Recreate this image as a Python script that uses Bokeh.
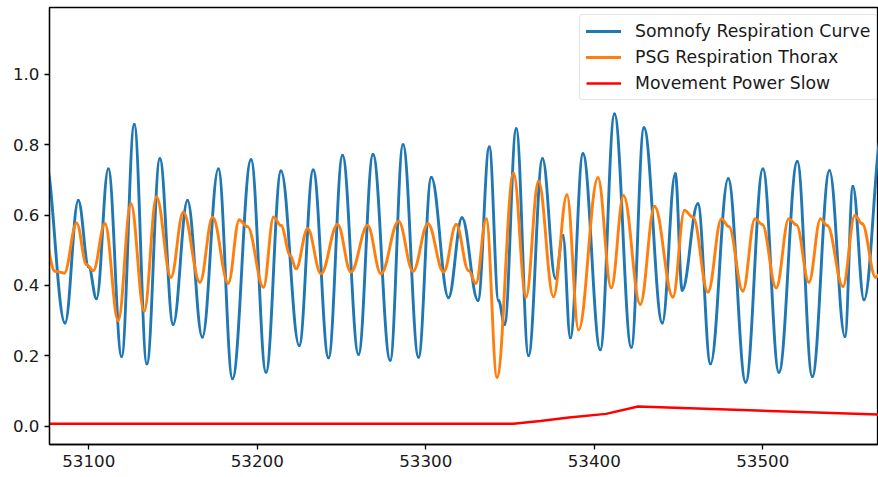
import numpy as np
from bokeh.plotting import figure
from bokeh.models import (Range1d, FixedTicker, NumeralTickFormatter, Legend,
                          LegendItem, ColumnDataSource)
from bokeh.embed import file_html
from bokeh.resources import INLINE

# ---- data (extrema / shoulders) ----
blue_x = [53074.0, 53085.9, 53093.8, 53100.0, 53104.6, 53111.6, 53119.5, 53127.0,
          53134.5, 53142.2, 53150.1, 53158.6, 53167.4, 53176.9, 53185.3, 53196.3,
          53205.2, 53214.1, 53224.9, 53233.2, 53242.3, 53250.6, 53260.1, 53268.7,
          53278.9, 53286.5, 53295.7, 53303.3, 53313.5, 53321.5, 53331.0, 53337.7,
          53343.2, 53346.8, 53353.7, 53361.0, 53369.3, 53377.0, 53381.4, 53385.8,
          53393.3, 53403.6, 53412.0, 53422.0, 53429.5, 53440.4, 53448.1, 53452.2,
          53461.5, 53469.0, 53479.5, 53489.9, 53500.1, 53509.6, 53520.5, 53529.4,
          53539.6, 53548.8, 53553.5, 53560.1, 53571.0]
blue_y = [0.760, 0.293, 0.641, 0.452, 0.362, 0.731, 0.198, 0.857,
          0.177, 0.760, 0.289, 0.641, 0.253, 0.731, 0.135, 0.757,
          0.153, 0.725, 0.229, 0.728, 0.194, 0.769, 0.204, 0.772,
          0.187, 0.800, 0.196, 0.707, 0.365, 0.592, 0.357, 0.793,
          0.357, 0.289, 0.845, 0.201, 0.760, 0.420, 0.542, 0.251,
          0.774, 0.217, 0.887, 0.224, 0.848, 0.293, 0.717, 0.386,
          0.632, 0.177, 0.703, 0.125, 0.731, 0.153, 0.752, 0.141,
          0.726, 0.255, 0.681, 0.359, 0.840]

orange_x = [53072.0, 53080.0, 53085.5, 53092.8, 53098.7, 53102.7, 53109.6, 53117.5,
            53125.0, 53132.9, 53140.2, 53148.8, 53156.1, 53166.0, 53173.5, 53182.8,
            53189.3, 53194.2, 53203.7, 53209.7, 53214.1, 53219.6, 53223.0, 53229.9,
            53237.8, 53247.7, 53255.6, 53265.5, 53273.4, 53283.9, 53292.4, 53301.3,
            53310.6, 53318.1, 53325.4, 53329.8, 53335.9, 53342.3, 53352.1, 53359.5,
            53366.9, 53375.8, 53383.8, 53390.7, 53402.2, 53410.1, 53417.4, 53427.3,
            53435.8, 53446.7, 53453.6, 53458.6, 53467.5, 53475.5, 53479.9, 53488.2,
            53495.4, 53499.7, 53508.0, 53515.5, 53520.0, 53527.4, 53534.3, 53538.3,
            53547.6, 53554.7, 53559.0, 53567.0, 53572.0]
orange_y = [0.580, 0.440, 0.435, 0.577, 0.459, 0.442, 0.575, 0.300,
            0.632, 0.327, 0.651, 0.423, 0.608, 0.409, 0.594, 0.406,
            0.586, 0.567, 0.395, 0.594, 0.570, 0.485, 0.447, 0.561,
            0.433, 0.573, 0.438, 0.570, 0.433, 0.582, 0.440, 0.575,
            0.438, 0.573, 0.442, 0.406, 0.589, 0.139, 0.719, 0.367,
            0.696, 0.368, 0.657, 0.274, 0.706, 0.393, 0.655, 0.346,
            0.624, 0.367, 0.613, 0.594, 0.381, 0.589, 0.567, 0.384,
            0.589, 0.573, 0.393, 0.589, 0.572, 0.409, 0.589, 0.570,
            0.397, 0.599, 0.575, 0.423, 0.450]

red_x = [53070.0, 53352.0, 53368.0, 53385.0, 53407.0, 53426.0, 53575.0]
red_y = [0.007, 0.007, 0.015, 0.025, 0.035, 0.056, 0.032]

x_ticks = [53100, 53200, 53300, 53400, 53500]
y_ticks = [0.0, 0.2, 0.4, 0.6, 0.8, 1.0]

labels = ["Somnofy Respiration Curve", "PSG Respiration Thorax", "Movement Power Slow"]
colors = ["#1f77b4", "#ff7f0e", "#ff0000"]

FONT = "DejaVu Sans"
FS = "16.7px"
FS_LEG = "17.3px"


def smooth_segments(x, y, k=0.38):
    x = np.asarray(x, float)
    y = np.asarray(y, float)
    dx = np.diff(x)
    return ColumnDataSource(dict(
        x0=x[:-1], y0=y[:-1], x1=x[1:], y1=y[1:],
        cx0=x[:-1] + k * dx, cy0=y[:-1], cx1=x[1:] - k * dx, cy1=y[1:]))


p = figure(width=878, height=477, output_backend="svg", toolbar_location=None,
           x_range=Range1d(53076.7, 53568.7), y_range=Range1d(-0.052, 1.1895),
           min_border_left=49, min_border_right=0, min_border_top=7,
           min_border_bottom=33)
p.xgrid.visible = False
p.ygrid.visible = False
p.outline_line_color = "black"
p.outline_line_width = 1.3
p.background_fill_color = "white"
p.border_fill_color = "white"

r_blue = p.bezier(x0="x0", y0="y0", x1="x1", y1="y1", cx0="cx0", cy0="cy0",
                  cx1="cx1", cy1="cy1", source=smooth_segments(blue_x, blue_y),
                  line_color=colors[0], line_width=2.9, line_cap="round")
r_orange = p.bezier(x0="x0", y0="y0", x1="x1", y1="y1", cx0="cx0", cy0="cy0",
                    cx1="cx1", cy1="cy1", source=smooth_segments(orange_x, orange_y),
                    line_color=colors[1], line_width=2.9, line_cap="round")
r_red = p.line(red_x, red_y, line_color=colors[2], line_width=2.5)

for ax in (p.xaxis[0], p.yaxis[0]):
    ax.axis_line_width = 1.3
    ax.axis_line_color = "black"
    ax.major_tick_line_width = 1.3
    ax.major_tick_line_color = "black"
    ax.major_tick_out = 5
    ax.major_tick_in = 0
    ax.minor_tick_line_color = None
    ax.major_label_text_font = FONT
    ax.major_label_text_font_size = FS
    ax.major_label_text_color = "#1a1a1a"

p.xaxis[0].ticker = FixedTicker(ticks=x_ticks)
p.xaxis[0].formatter = NumeralTickFormatter(format="0")
p.xaxis[0].major_label_standoff = 5
p.yaxis[0].ticker = FixedTicker(ticks=y_ticks)
p.yaxis[0].formatter = NumeralTickFormatter(format="0.0")
p.yaxis[0].major_label_standoff = 5

legend = Legend(items=[LegendItem(label=labels[0], renderers=[r_blue]),
                       LegendItem(label=labels[1], renderers=[r_orange]),
                       LegendItem(label=labels[2], renderers=[r_red])],
                location=(530, 344), margin=0, padding=6, spacing=6,
                glyph_width=35, glyph_height=20, label_height=20,
                label_standoff=14,
                label_text_font=FONT, label_text_font_size=FS_LEG,
                label_text_color="#1a1a1a",
                border_line_color="#cccccc", border_line_width=1,
                border_radius=3,
                background_fill_color="white", background_fill_alpha=0.8)
p.add_layout(legend)

open("out.html", "w").write(file_html(p, INLINE))
